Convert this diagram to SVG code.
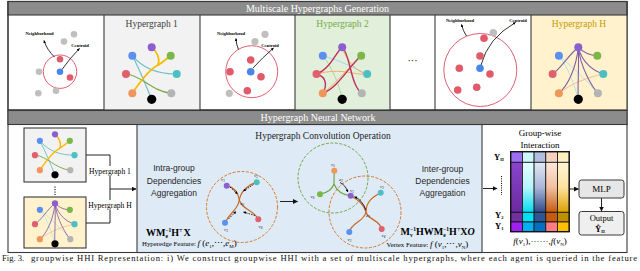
<svg xmlns="http://www.w3.org/2000/svg" width="640" height="271" viewBox="0 0 640 271">
<style>
.s{font-family:"Liberation Serif","Times New Roman",serif}
.ss{font-family:"Liberation Sans",Arial,sans-serif}
.fr{stroke:#3a3a3a;stroke-width:1.1}
.bar{fill:#8c8c8c;stroke:#3a3a3a;stroke-width:1.1}
.bt{font-family:"Liberation Serif","Times New Roman",serif;font-size:10px;fill:#fff;text-anchor:middle}
.ln{fill:none;stroke:#000;stroke-width:0.8}
.dl{fill:none;stroke:#000;stroke-width:0.8;stroke-dasharray:1.6 1}
.og{fill:none;stroke:#c9651f;stroke-width:1.2}
.gg{fill:none;stroke:#6fa843;stroke-width:1.2}
.lab{font-family:"Liberation Serif",serif;font-size:4.6px;font-weight:bold;text-anchor:middle}
.vl{font-family:"Liberation Serif",serif;font-size:5px;font-style:italic;text-anchor:middle;fill:#222}
.cg{fill:#bfbfbf}.cr{fill:#e05a6a}.cb{fill:#4a86e8}
.ring{fill:none;stroke:#e06070;stroke-width:1}
.bl{fill:none;stroke:#222;stroke-width:1}
.cell{stroke:#111;stroke-width:0.8}
</style>
<defs>
<marker id="ah" viewBox="0 0 10 10" refX="9" refY="5" markerWidth="5" markerHeight="5" orient="auto-start-reverse"><path d="M0,0 L10,5 L0,10 z" fill="#000"/></marker>
<marker id="ahs" viewBox="0 0 10 10" refX="9" refY="5" markerWidth="3.5" markerHeight="3.5" orient="auto"><path d="M0,0 L10,5 L0,10 z" fill="#000"/></marker>
<marker id="ahb" viewBox="0 0 10 10" refX="9" refY="5" markerWidth="5" markerHeight="5" orient="auto"><path d="M0,0 L10,5 L0,10 z" fill="#111"/></marker>
<linearGradient id="c1" x1="0" y1="0" x2="0" y2="1"><stop offset="0" stop-color="#8a45cc"/><stop offset="1" stop-color="#6a2a9e"/></linearGradient>
<linearGradient id="c2" x1="0" y1="0" x2="0" y2="1"><stop offset="0" stop-color="#e4ffff"/><stop offset="0.5" stop-color="#b8f4fb"/><stop offset="1" stop-color="#00dcee"/></linearGradient>
<linearGradient id="c3" x1="0" y1="0" x2="0" y2="1"><stop offset="0" stop-color="#e2e8f4"/><stop offset="0.5" stop-color="#a9b6d8"/><stop offset="1" stop-color="#2f4a8a"/></linearGradient>
<linearGradient id="c4" x1="0" y1="0" x2="0" y2="1"><stop offset="0" stop-color="#fde9dc"/><stop offset="0.5" stop-color="#f2c0a0"/><stop offset="1" stop-color="#c55a11"/></linearGradient>
<linearGradient id="c5" x1="0" y1="0" x2="0" y2="1"><stop offset="0" stop-color="#fff5d6"/><stop offset="0.5" stop-color="#fde3a0"/><stop offset="1" stop-color="#dba000"/></linearGradient>
<g id="nds">
<circle cx="-19.4" cy="8.4" r="4" fill="#5b8ff0"/>
<circle cx="0" cy="0" r="4" fill="#8b5fcf"/>
<circle cx="19" cy="8.4" r="4" fill="#7ab648"/>
<circle cx="-25.7" cy="26.7" r="4" fill="#e0606e"/>
<circle cx="25" cy="26.7" r="4" fill="#4bbfc2"/>
<circle cx="-19.4" cy="46" r="4" fill="#f0965a"/>
<circle cx="19.6" cy="46" r="4" fill="#b4b4b4"/>
<circle cx="0" cy="52" r="4.6" fill="#000"/>
</g>
<g id="hg1">
<path d="M-19.4,8.4 C-8,22 8,27 25,26.7" fill="none" stroke="#6cc0c8" stroke-width="1.2"/>
<path d="M-19.4,8.4 C-12,22 -6,38 0,52" fill="none" stroke="#6cc0c8" stroke-width="1.2"/>
<path d="M-25.7,26.7 C-10,28 0,44 19.6,46" fill="none" stroke="#7aa848" stroke-width="1.2"/>
<path d="M-19.4,46 C-10,32 -2,22 6,18 C10,16 14,12 19,8.4" fill="none" stroke="#f5bc00" stroke-width="1.8"/>
<path d="M6,18 C9,12 5,4 0,0" fill="none" stroke="#f5bc00" stroke-width="1.8"/>
<use href="#nds"/>
</g>
<g id="hg2">
<path d="M-19.4,8.4 C-10,20 -2,40 0,52" fill="none" stroke="#a8d08d" stroke-width="0.8"/>
<path d="M-19.4,8.4 C0,14 10,20 25,26.7" fill="none" stroke="#9ad0f0" stroke-width="0.8"/>
<path d="M-25.7,26.7 C0,20 10,28 25,26.7" fill="none" stroke="#f4a460" stroke-width="0.9"/>
<path d="M0,0 C5,15 15,25 25,26.7" fill="none" stroke="#f4a460" stroke-width="0.9"/>
<path d="M-19.4,46 C-5,35 8,18 19,8.4" fill="none" stroke="#f4a460" stroke-width="0.9"/>
<path d="M-25.7,26.7 C-12,22 -6,4 0,0" fill="none" stroke="#c0305a" stroke-width="1.4"/>
<path d="M0,0 C8,6 8,38 19.6,46" fill="none" stroke="#c0305a" stroke-width="1.4"/>
<path d="M-19.4,46 C-4,40 6,20 19,8.4" fill="none" stroke="#c0305a" stroke-width="1.4"/>
<path d="M-25.7,26.7 C-14,30 -16,40 -19.4,46" fill="none" stroke="#c0305a" stroke-width="1.4"/>
<use href="#nds"/>
</g>
<g id="hgh">
<path d="M-19.4,8.4 C-5,20 10,35 19.6,46" fill="none" stroke="#a0e0f0" stroke-width="0.8"/>
<path d="M-19.4,8.4 C-10,20 -3,40 0,52" fill="none" stroke="#a0e0f0" stroke-width="0.8"/>
<path d="M-19.4,46 C-5,35 10,30 25,26.7" fill="none" stroke="#f4b183" stroke-width="0.8"/>
<path d="M0,0 C-10,8 -18,22 -25.7,26.7" fill="none" stroke="#7e5fa8" stroke-width="1.1"/>
<path d="M0,0 C-2,20 -10,38 -19.4,46" fill="none" stroke="#7e5fa8" stroke-width="1.1"/>
<path d="M0,0 C6,6 12,8 19,8.4" fill="none" stroke="#7e5fa8" stroke-width="1.1"/>
<path d="M0,0 C4,16 16,24 25,26.7" fill="none" stroke="#7e5fa8" stroke-width="1.1"/>
<path d="M0,0 C2,20 14,40 19.6,46" fill="none" stroke="#7e5fa8" stroke-width="1.1"/>
<path d="M0,0 C1,20 -1,40 0,52" fill="none" stroke="#7e5fa8" stroke-width="1.1"/>
<use href="#nds"/>
</g>
</defs>
<rect width="640" height="271" fill="#fff"/>

<!-- Top section -->
<g id="top-section">
<rect x="8" y="1.5" width="619" height="108.5" fill="#fff" class="fr"/>
<rect x="104" y="15" width="96" height="95" fill="#f2f2f2"/>
<rect x="295" y="15" width="95" height="95" fill="#e2efda"/>
<rect x="531" y="15" width="96" height="95" fill="#fff2cc"/>
<rect x="8" y="1.5" width="619" height="13.5" class="bar"/>
<text class="bt" x="317.5" y="12">Multiscale Hypergraphs Generation</text>
<g class="fr"><line x1="104" y1="15" x2="104" y2="110"/><line x1="200" y1="15" x2="200" y2="110"/><line x1="295" y1="15" x2="295" y2="110"/><line x1="390" y1="15" x2="390" y2="110"/><line x1="435" y1="15" x2="435" y2="110"/><line x1="531" y1="15" x2="531" y2="110"/></g>
<rect x="8" y="1.5" width="619" height="108.5" fill="none" class="fr"/>
</g>

<g id="centroid-1">
<circle class="ring" cx="60" cy="71.7" r="16.7"/>
<path class="ln" d="M54.5,57 Q47,50 44,40.5" marker-end="url(#ahs)"/>
<path class="ln" d="M62,69.5 Q70,58 79.5,48.5" marker-end="url(#ahs)"/>
<circle class="cg" cx="74" cy="34.3" r="3.3"/><circle class="cg" cx="64" cy="41.5" r="3.3"/>
<circle class="cg" cx="39" cy="71.7" r="3.3"/><circle class="cg" cx="38.3" cy="93.3" r="3.3"/><circle class="cg" cx="56" cy="90.7" r="3.3"/>
<circle class="cr" cx="60" cy="59.3" r="3.3"/><circle class="cr" cx="70" cy="77.5" r="3.3"/>
<circle class="cb" cx="60" cy="71.7" r="3.3"/>
<text class="lab" x="39.5" y="35.2">Neighborhood</text>
<text class="lab" x="80" y="47.2">Centroid</text>
</g>

<g id="hypergraph-1">
<text class="s" x="151.7" y="27" font-size="9.5" fill="#404040" text-anchor="middle">Hypergraph 1</text>
<use href="#hg1" transform="translate(151.7,47.3)"/>
</g>

<g id="centroid-2">
<circle class="ring" cx="251.7" cy="71.7" r="26"/>
<path class="ln" d="M238.5,49.5 Q236,44 236,38.5" marker-end="url(#ahs)"/>
<path class="ln" d="M253,68 Q262,58 273.5,48" marker-end="url(#ahs)"/>
<circle class="cg" cx="265" cy="34.3" r="3.6"/><circle class="cg" cx="255" cy="41.7" r="3.6"/><circle class="cg" cx="229.3" cy="93.3" r="3.6"/>
<circle class="cr" cx="250.7" cy="60" r="3.8"/><circle class="cr" cx="261" cy="76.7" r="3.8"/><circle class="cr" cx="230" cy="71.7" r="3.8"/><circle class="cr" cx="247.3" cy="90.7" r="3.8"/>
<circle class="cb" cx="250.7" cy="71.7" r="3.8"/>
<text class="lab" x="231" y="35.2">Neighborhood</text>
<text class="lab" x="270" y="47.2">Centroid</text>
</g>

<g id="hypergraph-2">
<text class="s" x="342.5" y="27" font-size="9.5" fill="#70ad47" text-anchor="middle">Hypergraph 2</text>
<use href="#hg2" transform="translate(342.2,47.3)"/>
</g>

<g id="ellipsis">
<text class="s" x="412.5" y="64" font-size="10" text-anchor="middle">···</text>
</g>

<g id="centroid-h">
<circle class="ring" cx="480.3" cy="70" r="36.5"/>
<path class="ln" d="M466.5,36 Q463,31 461.5,24.5" marker-end="url(#ahs)"/>
<path class="ln" d="M481,65 Q488,38 515.5,22.5" marker-end="url(#ahs)"/>
<circle class="cg" cx="493.3" cy="32.7" r="3.8"/>
<circle class="cr" cx="484" cy="38.3" r="3.8"/><circle class="cr" cx="480" cy="56" r="3.8"/><circle class="cr" cx="459.3" cy="68.3" r="3.8"/><circle class="cr" cx="490" cy="74" r="3.8"/><circle class="cr" cx="476.7" cy="87.3" r="3.8"/><circle class="cr" cx="457.7" cy="90" r="3.8"/>
<circle class="cb" cx="480" cy="68.3" r="3.8"/>
<text class="lab" x="460" y="22">Neighborhood</text>
<text class="lab" x="518" y="22">Centroid</text>
</g>

<g id="hypergraph-h">
<text class="s" x="579" y="27" font-size="9.5" fill="#c49a00" text-anchor="middle">Hypergraph H</text>
<use href="#hgh" transform="translate(578.3,47.3)"/>
</g>

<!-- Bottom section -->
<g id="bottom-section">
<rect x="8" y="110.5" width="619" height="142" fill="#fff" class="fr"/>
<rect x="137" y="124.5" width="345" height="128" fill="#deebf7" class="fr"/>
<rect x="8" y="110.5" width="619" height="14" class="bar"/>
<text class="bt" x="318" y="121">Hypergraph Neural Network</text>
</g>

<g id="mini-hypergraph-1">
<rect x="24" y="128" width="62" height="54" fill="#f2f2f2" class="fr"/>
<use href="#hg1" transform="translate(55,134.3) scale(0.78)"/>
</g>
<line x1="55" y1="186.5" x2="55" y2="195" stroke="#000" stroke-width="1" stroke-dasharray="1.2 1.3"/>
<g id="mini-hypergraph-h">
<rect x="24" y="197" width="62" height="51" fill="#fff2cc" class="fr"/>
<use href="#hgh" transform="translate(55,203.3) scale(0.78)"/>
</g>

<g id="connectors">
<path class="bl" d="M86,155 H110 V223 H86"/>
<path class="bl" d="M110,189 H136" marker-end="url(#ahb)"/>
<path class="bl" d="M280,201.5 H297.5" marker-end="url(#ahb)"/>
<path class="bl" d="M483,188.5 H497" marker-end="url(#ahb)"/>
<path class="bl" d="M569.5,189 H578.5" marker-end="url(#ahb)"/>
<path class="bl" d="M601.5,198 V211" marker-end="url(#ahb)"/>
</g>
<rect x="88" y="166" width="44" height="10" fill="#fff"/>
<text class="s" x="110" y="174" font-size="7.6" text-anchor="middle">Hypergraph 1</text>
<rect x="87" y="200" width="46" height="10" fill="#fff"/>
<text class="s" x="110" y="208" font-size="7.6" text-anchor="middle">Hypergraph H</text>

<g id="hgconv">
<text class="s" x="323" y="138.5" font-size="9.5" text-anchor="middle" fill="#222">Hypergraph Convolution Operation</text>
<g class="ss" font-size="8.5" fill="#262626" text-anchor="middle">
<text x="174" y="171">Intra-group</text><text x="174" y="183.5">Dependencies</text><text x="174" y="196">Aggregation</text>
<text x="442.5" y="171.5">Inter-group</text><text x="442.5" y="184">Dependencies</text><text x="442.5" y="196">Aggregation</text>
</g>
<text class="s" x="146" y="235.5" font-size="10" font-weight="bold">WM<tspan font-size="5.5" dy="2">e</tspan><tspan font-size="5.5" dx="-2.6" dy="-6">−1</tspan><tspan dy="4">H</tspan><tspan font-size="4" dy="-4">⊤</tspan><tspan dy="4" dx="1.5">X</tspan></text>
<text class="s" x="142" y="246" font-size="6.8">Hyperedge Feature: <tspan font-size="9" font-style="italic">f</tspan><tspan font-size="9"> (</tspan><tspan font-size="9" font-style="italic">e</tspan><tspan font-size="5" dy="1.5">1</tspan><tspan font-size="9" dy="-1.5">,⋯,</tspan><tspan font-size="9" font-style="italic">e</tspan><tspan font-size="5" dy="1.5">M</tspan><tspan font-size="9" dy="-1.5">)</tspan></text>
<text class="s" x="400.5" y="234.5" font-size="10" font-weight="bold">M<tspan font-size="5.5" dy="2">v</tspan><tspan font-size="5.5" dx="-2.6" dy="-6">−1</tspan><tspan dy="4">HWM</tspan><tspan font-size="5.5" dy="2">e</tspan><tspan font-size="5.5" dx="-2.6" dy="-6">−1</tspan><tspan dy="4">H</tspan><tspan font-size="4" dy="-4">⊤</tspan><tspan dy="4" dx="0.5">X</tspan><tspan font-style="italic">O</tspan></text>
<text class="s" x="386.5" y="247" font-size="6.8">Vertex Feature: <tspan font-size="9" font-style="italic">f</tspan><tspan font-size="9"> (</tspan><tspan font-size="9" font-style="italic">v</tspan><tspan font-size="5" dy="1.5">1</tspan><tspan font-size="9" dy="-1.5">,⋯,</tspan><tspan font-size="9" font-style="italic">v</tspan><tspan font-size="5" dy="1.5">N</tspan><tspan font-size="9" dy="-1.5">)</tspan></text>
</g>

<g id="intra-group-diagram">
<circle cx="242" cy="207" r="35.5" fill="none" stroke="#d9772b" stroke-width="1" stroke-dasharray="3 1.5"/>
<path class="og" d="M226.7,185.7 C233,187 238,192 239.3,200"/>
<path class="og" d="M256.7,182.3 C250,184 241,190 239.3,200"/>
<path class="og" d="M239.3,200 C238,210 230,212 225,222.7"/>
<path class="og" d="M239.3,200 C242,210 254,210 258.3,219.3"/>
<path class="dl" d="M230,187 L237.5,193.8" marker-end="url(#ahs)"/>
<path class="dl" d="M253.5,184.5 L243.5,191" marker-end="url(#ahs)"/>
<path class="dl" d="M228.5,219 L236,211.5" marker-end="url(#ahs)"/>
<path class="dl" d="M255,215.5 L243.5,212" marker-end="url(#ahs)"/>
<circle cx="226.7" cy="185.7" r="3" fill="#8b5fcf"/>
<circle cx="256.7" cy="182.3" r="3" fill="#4bbfc2"/>
<circle cx="225" cy="222.7" r="3" fill="#5b8ff0"/>
<circle cx="258.3" cy="219.3" r="3" fill="#e0606e"/>
<text class="vl" x="223" y="181">v<tspan font-size="3.3" dy="1">1</tspan></text>
<text class="vl" x="256" y="177">v<tspan font-size="3.3" dy="1">2</tspan></text>
<text class="vl" x="226" y="230.5">v<tspan font-size="3.3" dy="1">3</tspan></text>
<text class="vl" x="260.5" y="228">v<tspan font-size="3.3" dy="1">4</tspan></text>
<text class="vl" x="242.5" y="205">e<tspan font-size="3.3" dy="1">1</tspan></text>
</g>

<g id="inter-group-diagram">
<circle cx="333" cy="178" r="35" fill="none" stroke="#6fa843" stroke-width="1" stroke-dasharray="3 1.5"/>
<circle cx="365" cy="212" r="36" fill="none" stroke="#d9772b" stroke-width="1" stroke-dasharray="3 1.5"/>
<path class="gg" d="M334.3,170.7 C334,178 334,182 334,184"/>
<path class="gg" d="M334,184 C332,190 326,193 320,194.3"/>
<path class="gg" d="M334,184 C337,192 344,195 350.7,195.7"/>
<path class="og" d="M350.7,195.7 C358,200 364,204 366,212"/>
<path class="og" d="M380.7,192.7 C375,196 366,200 366,212"/>
<path class="og" d="M366,212 C364,222 352,222 349.3,232"/>
<path class="og" d="M366,212 C368,220 380,220 381.7,229"/>
<path class="ln" d="M340,182.5 Q345.5,185 347.8,192" marker-end="url(#ahs)"/>
<path class="ln" d="M366,210 Q362,199.5 354.5,196.8" marker-end="url(#ahs)"/>
<circle cx="334.3" cy="170.7" r="3" fill="#f0965a"/>
<circle cx="320" cy="194.3" r="3" fill="#7ab648"/>
<circle cx="350.7" cy="195.7" r="3" fill="#8b5fcf"/>
<circle cx="380.7" cy="192.7" r="3" fill="#4bbfc2"/>
<circle cx="349.3" cy="232" r="3" fill="#5b8ff0"/>
<circle cx="381.7" cy="229" r="3" fill="#e0606e"/>
<text class="vl" x="333" y="166">v<tspan font-size="3.3" dy="1">5</tspan></text>
<text class="vl" x="312.5" y="198">v<tspan font-size="3.3" dy="1">6</tspan></text>
<text class="vl" x="341" y="181">e<tspan font-size="3.3" dy="1">2</tspan></text>
<text class="vl" x="352" y="192">v<tspan font-size="3.3" dy="1">1</tspan></text>
<text class="vl" x="382" y="188">v<tspan font-size="3.3" dy="1">2</tspan></text>
<text class="vl" x="368" y="217">e<tspan font-size="3.3" dy="1">1</tspan></text>
<text class="vl" x="349.5" y="240.5">v<tspan font-size="3.3" dy="1">3</tspan></text>
<text class="vl" x="383.5" y="236.5">v<tspan font-size="3.3" dy="1">4</tspan></text>
</g>

<g id="groupwise-interaction">
<text class="s" x="540" y="136" font-size="9" text-anchor="middle">Group-wise</text>
<text class="s" x="540" y="148" font-size="9" text-anchor="middle">Interaction</text>
<g class="cell">
<rect x="510.7" y="151.7" width="11.7" height="10.6" fill="#9d6ff0"/>
<rect x="522.4" y="151.7" width="11.7" height="10.6" fill="#ccf6fa"/>
<rect x="534.1" y="151.7" width="11.7" height="10.6" fill="#b0bfe0"/>
<rect x="545.8" y="151.7" width="11.7" height="10.6" fill="#f7d2c0"/>
<rect x="557.5" y="151.7" width="11.7" height="10.6" fill="#fff0c0"/>
<rect x="510.7" y="162.3" width="11.7" height="50" fill="url(#c1)"/>
<rect x="522.4" y="162.3" width="11.7" height="50" fill="url(#c2)"/>
<rect x="534.1" y="162.3" width="11.7" height="50" fill="url(#c3)"/>
<rect x="545.8" y="162.3" width="11.7" height="50" fill="url(#c4)"/>
<rect x="557.5" y="162.3" width="11.7" height="50" fill="url(#c5)"/>
<rect x="510.7" y="212.3" width="11.7" height="9.7" fill="#7030a0"/>
<rect x="522.4" y="212.3" width="11.7" height="9.7" fill="#00e0f0"/>
<rect x="534.1" y="212.3" width="11.7" height="9.7" fill="#2f5597"/>
<rect x="545.8" y="212.3" width="11.7" height="9.7" fill="#c55a11"/>
<rect x="557.5" y="212.3" width="11.7" height="9.7" fill="#bf9000"/>
<rect x="510.7" y="222" width="11.7" height="9.7" fill="#a020f0"/>
<rect x="522.4" y="222" width="11.7" height="9.7" fill="#00b0f0"/>
<rect x="534.1" y="222" width="11.7" height="9.7" fill="#0070c0"/>
<rect x="545.8" y="222" width="11.7" height="9.7" fill="#ff7c80"/>
<rect x="557.5" y="222" width="11.7" height="9.7" fill="#ffc000"/>
</g>
<rect x="510.7" y="151.7" width="58.5" height="80" fill="none" stroke="#111" stroke-width="1.3"/>
<text class="s" x="494" y="159.5" font-size="8.5" font-weight="bold">Y<tspan font-size="4.5" dy="1.5">H</tspan></text>
<text class="s" x="495" y="217.5" font-size="8.5" font-weight="bold">Y<tspan font-size="4.5" dy="1.5">2</tspan></text>
<text class="s" x="495" y="228.5" font-size="8.5" font-weight="bold">Y<tspan font-size="4.5" dy="1.5">1</tspan></text>
<line x1="501.5" y1="176" x2="501.5" y2="195" stroke="#000" stroke-width="1" stroke-dasharray="1 1.3"/>
<text class="s" x="540" y="244" font-size="9" text-anchor="middle"><tspan font-style="italic">f</tspan>(<tspan font-style="italic">v</tspan><tspan font-size="5" dy="1.5">1</tspan><tspan dy="-1.5">),······,</tspan><tspan font-style="italic">f</tspan>(<tspan font-style="italic">v</tspan><tspan font-size="5" dy="1.5">N</tspan><tspan dy="-1.5">)</tspan></text>
</g>

<g id="mlp">
<rect x="579" y="180" width="45" height="18" rx="2.5" fill="#e6e6e6" stroke="#3a3a3a" stroke-width="1"/>
<text class="s" x="601.5" y="192.3" font-size="9" text-anchor="middle">MLP</text>
</g>
<g id="output">
<rect x="579" y="211.5" width="45" height="23.5" rx="2.5" fill="#efefef" stroke="#3a3a3a" stroke-width="1"/>
<text class="s" x="601.5" y="220.5" font-size="8.5" text-anchor="middle">Output</text>
<text class="s" x="600" y="231.5" font-size="8" font-weight="bold" text-anchor="middle">Ŷ<tspan font-size="4.5" dy="1.5">H</tspan></text>
</g>

<g id="caption" class="s" font-size="8.6" fill="#111">
<text x="2" y="260.5">Fig. 3.</text>
<text x="31" y="260.5" textLength="606">groupwise HHI Representation: i) We construct groupwise HHI with a set of multiscale hypergraphs, where each agent is queried in the feature</text>
</g>
</svg>
